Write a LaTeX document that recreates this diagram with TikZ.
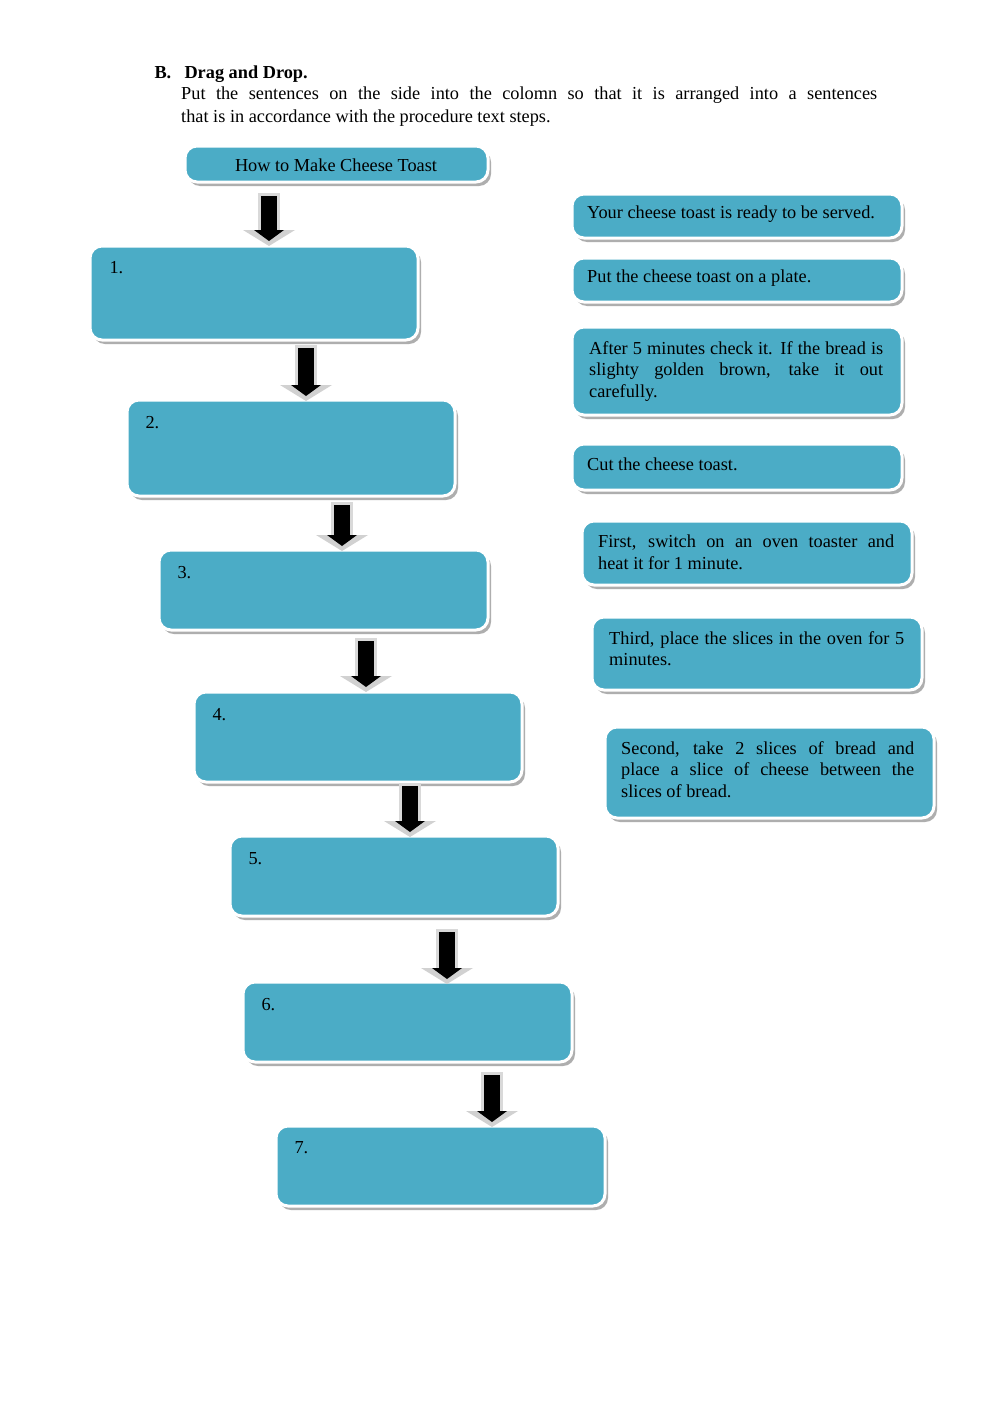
\documentclass[tikz,border=0pt]{standalone}
\usepackage{fontspec}
\setmainfont{Liberation Serif}
\usetikzlibrary{shadows}
\definecolor{teal1}{HTML}{4BACC6}
\tikzset{
 box/.style={draw=white,line width=3pt,fill=teal1,rounded corners=12pt,
   drop shadow={shadow xshift=3pt,shadow yshift=-4pt,fill=black!35,opacity=0.9}},
}
\newcommand{\bx}[5]{\draw[box] (#1,#2) rectangle (#3,#4); \coordinate (#5t) at ({(#1+#3)/2},#2); \coordinate (#5b) at ({(#1+#3)/2},#4);}
\newcommand{\barrow}[3]{%
 \fill[black!15] (#1-11,#2-2) rectangle (#1+11,#3-14);
 \fill[black!18] (#1-26,#3-16) -- (#1+26,#3-16) -- (#1,#3) -- cycle;
 \fill[black] (#1-8,#2+1) rectangle (#1+8,#3-15);
 \fill[black] (#1-15,#3-16) -- (#1+15,#3-16) -- (#1,#3-5) -- cycle;}
\hyphenpenalty=10000
\begin{document}
\begin{tikzpicture}[x=1pt,y=-1pt,font=\fontsize{18.3}{21.5}\selectfont]
\useasboundingbox[fill=white] (0,0) rectangle (1000,1413);
\node[anchor=base west,font=\fontsize{18.3}{21}\selectfont\bfseries] at (151,78) {B.};
\node[anchor=base west,font=\fontsize{18.3}{21}\selectfont\bfseries] at (181,78) {Drag and Drop.};
\node[anchor=north west,inner sep=0pt,text width=696pt,align=justify,font=\fontsize{18.3}{23}\selectfont] (intro) at (181,87) {Put the sentences on the side into the colomn so that it is arranged into a sentences\linebreak that is in accordance with the procedure text steps.};
% left
\bx{185}{146}{488}{182}{t0}
\node (title) at (336,165) {How to Make Cheese Toast};
\bx{90}{246}{418}{340}{b1}
\bx{127}{400}{455}{496}{b2}
\bx{159}{550}{488}{630}{b3}
\bx{194}{692}{522}{782}{b4}
\bx{230}{836}{558}{916}{b5}
\bx{243}{982}{572}{1062}{b6}
\bx{276}{1126}{605}{1206}{b7}
\node[anchor=base west] (n1) at (106,273) {1.};
\node[anchor=base west] (n2) at (142,428) {2.};
\node[anchor=base west] (n3) at (174,578) {3.};
\node[anchor=base west] (n4) at (209,720) {4.};
\node[anchor=base west] (n5) at (245,864) {5.};
\node[anchor=base west] (n6) at (258,1010) {6.};
\node[anchor=base west] (n7) at (291,1153) {7.};
\barrow{269}{195}{246}
\barrow{306}{347}{401}
\barrow{342}{504}{551}
\barrow{366}{640}{692}
\barrow{410}{785}{837}
\barrow{447}{931}{984}
\barrow{492}{1074}{1127}
% right
\bx{572}{194}{902}{238}{r1}
\bx{572}{258}{902}{302}{r2}
\bx{572}{327}{902}{415}{r3}
\bx{572}{444}{902}{490}{r4}
\bx{582}{521}{912}{585}{r5}
\bx{592}{617}{922}{690}{r6}
\bx{605}{727}{934}{818}{r7}
\tikzset{rt/.style={anchor=north west,inner sep=0pt,text width=#1,align=justify}}
\node[rt=300pt] (s1) at (587,206) {Your cheese toast is ready to be served.};
\node[rt=300pt] (s2) at (587,270) {Put the cheese toast on a plate.};
\node[rt=294pt] (s3) at (589,341) {After 5 minutes check it. If the bread is\linebreak slighty golden brown, take it out\linebreak carefully.};
\node[rt=300pt] (s4) at (587,458) {Cut the cheese toast.};
\node[rt=296pt] (s5) at (598,535) {First, switch on an oven toaster and\linebreak heat it for 1 minute.};
\node[rt=295pt] (s6) at (609,631) {Third, place the slices in the oven for 5\linebreak minutes.};
\node[rt=293pt] (s7) at (621,741) {Second, take 2 slices of bread and\linebreak place a slice of cheese between the\linebreak slices of bread.};
\end{tikzpicture}
\end{document}
